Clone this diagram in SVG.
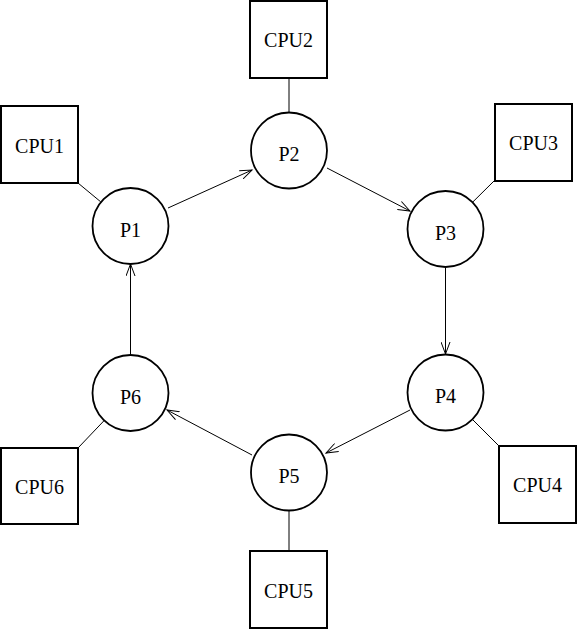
<svg xmlns="http://www.w3.org/2000/svg" width="577" height="630" viewBox="0 0 577 630">
<style>
.box{fill:#fff;stroke:#000;stroke-width:2}
.proc{fill:#fff;stroke:#000;stroke-width:1.8}
.lbl{font-family:"Liberation Serif","Times New Roman",serif;font-size:20px;fill:#000;text-anchor:middle}
.link{stroke:#000;stroke-width:1;fill:none}
.arrow{stroke:#000;stroke-width:1;fill:none;marker-end:url(#open)}
</style>
<defs>
<marker id="open" markerWidth="14" markerHeight="10" refX="12" refY="5" orient="auto" markerUnits="userSpaceOnUse">
<path d="M0,0.5 L12,5 L0,9.5" fill="none" stroke="#000" stroke-width="1"/>
</marker>
</defs>
<rect width="577" height="630" fill="#fff"/>
<g id="connectors">
<line class="link" x1="78" y1="183" x2="100.7" y2="201.8"/>
<line class="link" x1="289" y1="78" x2="289" y2="112"/>
<line class="link" x1="494" y1="181" x2="472.5" y2="202.3"/>
<line class="link" x1="499" y1="446" x2="472.4" y2="419.4"/>
<line class="link" x1="289" y1="551" x2="289" y2="511"/>
<line class="link" x1="78" y1="448" x2="104.2" y2="420.5"/>
<line class="arrow" x1="168" y1="208" x2="252" y2="170"/>
<line class="arrow" x1="327" y1="168" x2="410" y2="211"/>
<line class="arrow" x1="445.5" y1="268" x2="445.5" y2="354"/>
<line class="arrow" x1="410" y1="410" x2="326" y2="453"/>
<line class="arrow" x1="252" y1="455" x2="167" y2="410"/>
<line class="arrow" x1="130.5" y1="354" x2="130.5" y2="264"/>
</g>
<g id="CPU1"><rect class="box" x="1" y="106" width="77" height="77"/><text class="lbl" x="39.5" y="152.5">CPU1</text></g>
<g id="CPU2"><rect class="box" x="250" y="1" width="77" height="77"/><text class="lbl" x="288.5" y="47">CPU2</text></g>
<g id="CPU3"><rect class="box" x="495" y="104" width="77" height="77"/><text class="lbl" x="533.5" y="150">CPU3</text></g>
<g id="CPU4"><rect class="box" x="499" y="446" width="77" height="77"/><text class="lbl" x="537.5" y="492">CPU4</text></g>
<g id="CPU5"><rect class="box" x="250" y="551" width="77" height="77"/><text class="lbl" x="288.5" y="598">CPU5</text></g>
<g id="CPU6"><rect class="box" x="1" y="448" width="77" height="76"/><text class="lbl" x="39.5" y="494">CPU6</text></g>
<g id="P1"><circle class="proc" cx="130.5" cy="226" r="38"/><text class="lbl" x="130.5" y="236.5">P1</text></g>
<g id="P2"><circle class="proc" cx="289" cy="150.5" r="38"/><text class="lbl" x="289" y="161">P2</text></g>
<g id="P3"><circle class="proc" cx="445.5" cy="229" r="38"/><text class="lbl" x="445.5" y="239.5">P3</text></g>
<g id="P4"><circle class="proc" cx="445.5" cy="392.5" r="38"/><text class="lbl" x="445.5" y="403">P4</text></g>
<g id="P5"><circle class="proc" cx="289" cy="472.5" r="38"/><text class="lbl" x="289" y="483">P5</text></g>
<g id="P6"><circle class="proc" cx="130.5" cy="393" r="38"/><text class="lbl" x="130.5" y="403.5">P6</text></g>
</svg>
